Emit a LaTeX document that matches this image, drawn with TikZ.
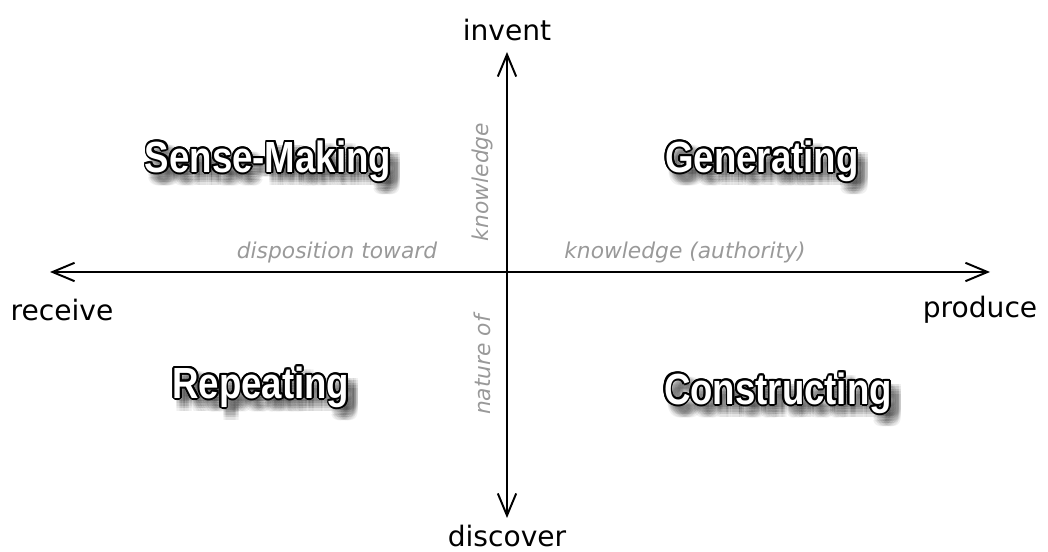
\documentclass[tikz,border=0pt]{standalone}
\usepackage{fontspec}
\setmainfont{DejaVu Sans}
\newfontfamily\quadfont{Liberation Sans}[FakeStretch=0.84]
\usepackage{tikz}
\usetikzlibrary{arrows.meta}
\usepackage{contour}
\contourlength{1.3pt}
\definecolor{hint}{HTML}{999999}

\begin{document}
\begin{tikzpicture}[
    pole/.style={font=\fontsize{20}{24}\selectfont, text=black},
    hint/.style={font=\itshape\fontsize{15.5}{18}\selectfont, text=hint},
    quad/.style={font=\quadfont\bfseries\fontsize{31}{36}\selectfont, text=white},
    quadshadow/.style={font=\quadfont\bfseries\fontsize{31}{36}\selectfont,
      text=black, text opacity=0.06},
    axis/.style={line width=1.4pt, {Straight Barb[length=5.5mm,width=4.6mm]}-{Straight Barb[length=5.5mm,width=4.6mm]}}
  ]
  \useasboundingbox (0,0) rectangle (26.2,13.8);

  % axes
  \coordinate (west) at (1.25,7.0);
  \coordinate (east) at (24.75,7.0);
  \coordinate (north) at (12.675,12.5);
  \coordinate (south) at (12.675,0.85);
  \draw[axis] (west) -- (east);
  \draw[axis] (north) -- (south);

  % ends of the axes
  \node[pole] (invent) at (12.675,13.05) {invent};
  \node[pole] (discover) at (12.675,0.4) {discover};
  \node[pole] (receive) at (1.55,6.05) {receive};
  \node[pole] (produce) at (24.5,6.05) {produce};

  % axis captions
  \node[hint] (disposition) at (8.425,7.5) {disposition toward};
  \node[hint] (authority) at (17.125,7.5) {knowledge (authority)};
  \node[hint, rotate=90] (knowledge) at (12.05,9.25) {knowledge};
  \node[hint, rotate=90] (nature) at (12.05,4.675) {nature of};

  % quadrant names, soft shadow first
  \foreach \name/\pos in {Sense-Making/{(6.7,9.75)}, Generating/{(19.05,9.75)},
                          Repeating/{(6.52,4.1)}, Constructing/{(19.45,3.95)}} {
    \foreach \dx in {0.06,0.12,...,0.31}
      \foreach \dy in {0.06,0.12,...,0.31}
        \node[quadshadow, xshift=\dx cm, yshift=-\dy cm] at \pos {\name};
    \node[quad] (\name) at \pos {\contour{black}{\name}};
  }
\end{tikzpicture}
\end{document}
